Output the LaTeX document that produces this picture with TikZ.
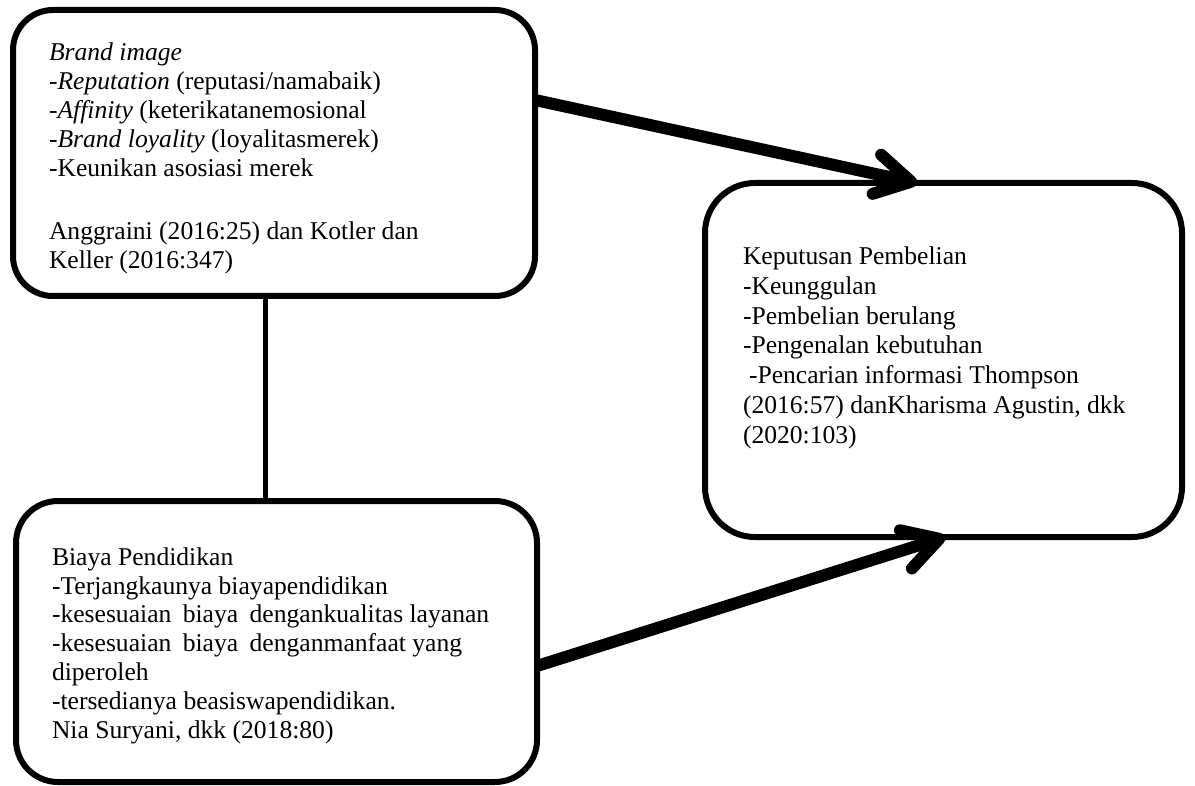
\documentclass[tikz,border=0pt]{standalone}
\usepackage{fontspec}
\setmainfont{Liberation Serif}
\usetikzlibrary{arrows.meta,calc}
\begin{document}
\begin{tikzpicture}[x=1pt,y=-1pt,
  box/.style={draw, line width=6pt, inner sep=0pt, outer sep=0pt},
  txt/.style={anchor=base west, inner sep=0pt, outer sep=0pt, align=left},
  link/.style={line width=5pt},
  flow/.style={line width=12pt, -{Straight Barb[length=35pt,width=40pt,round]}}]
\useasboundingbox (0,0) rectangle (1195,786);
\node[box, rounded corners=40pt, minimum width=522pt, minimum height=286pt] (b1) at (274,153) {};
\node[box, rounded corners=50pt, minimum width=477pt, minimum height=354pt] (b2) at (943.5,360) {};
\node[box, rounded corners=42pt, minimum width=521pt, minimum height=281pt] (b3) at (276.5,641.5) {};
\node[txt, font=\fontsize{25.6}{29}\selectfont] (t1) at (49,269) {\textit{Brand image}\\
-\textit{Reputation} (reputasi/namabaik)\\
-\textit{Affinity} (keterikatanemosional\\
-\textit{Brand loyality} (loyalitasmerek)\\
-Keunikan asosiasi merek\\[34pt]
Anggraini (2016:25) dan Kotler dan\\
Keller (2016:347)};
\node[txt, font=\fontsize{25.6}{29.7}\selectfont] (t2) at (743,443) {Keputusan Pembelian\\
-Keunggulan\\
-Pembelian berulang\\
-Pengenalan kebutuhan\\
\hspace*{6pt}-Pencarian informasi Thompson\\
(2016:57) danKharisma Agustin, dkk\\
(2020:103)};
\node[txt, font=\fontsize{25.6}{28.8}\selectfont] (t3) at (52,738) {Biaya Pendidikan\\
-Terjangkaunya biayapendidikan\\
-kesesuaian\hspace{5pt} biaya\hspace{5pt} dengankualitas layanan\\
-kesesuaian\hspace{5pt} biaya\hspace{5pt} denganmanfaat yang\\
diperoleh\\
-tersedianya beasiswapendidikan.\\
Nia Suryani, dkk (2018:80)};
\draw[link] ([xshift=-9pt]b1.south) -- ([xshift=-9pt]b1.south |- b3.north);
\draw[flow] ($(b1.north east)+(0,90)$) -- ($(b2.north west)+(212,0)$);
\draw[flow] ($(b3.north east)+(0,165)$) -- ($(b2.south west)+(240,0)$);
\end{tikzpicture}
\end{document}
